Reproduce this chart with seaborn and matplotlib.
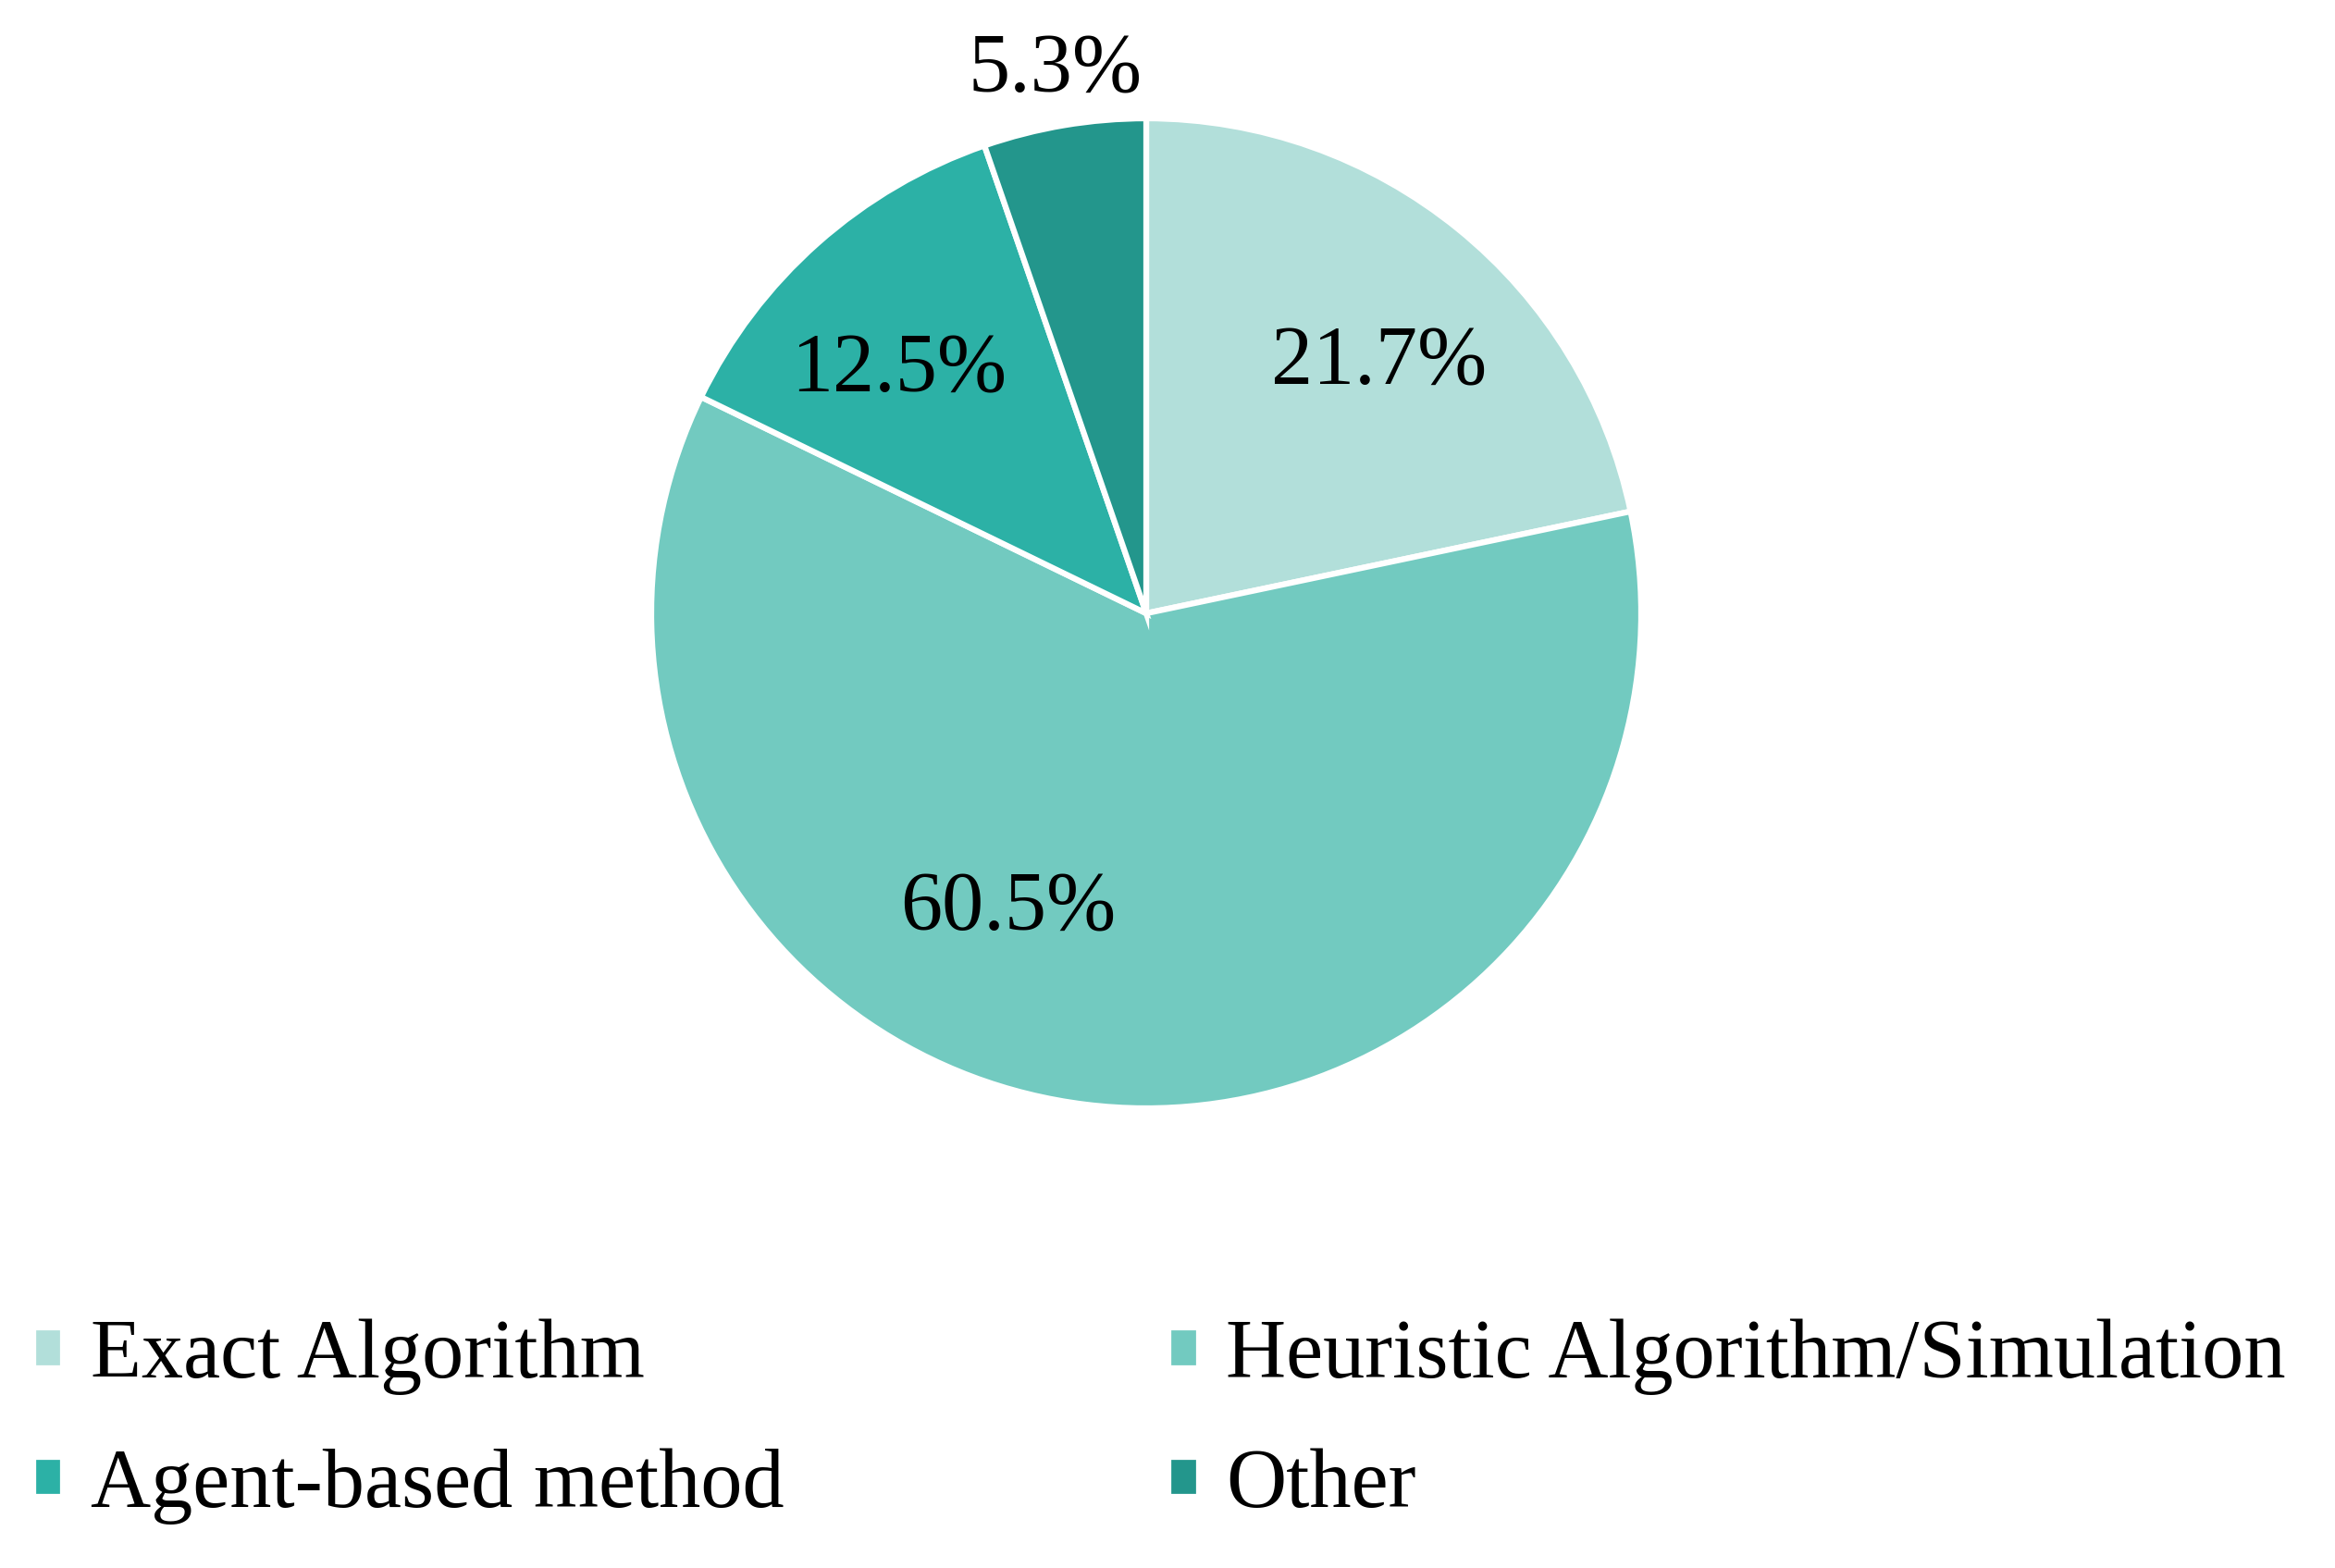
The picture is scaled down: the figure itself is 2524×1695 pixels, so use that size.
import matplotlib.pyplot as plt
import seaborn as sns
import numpy as np

categories = ["Exact Algorithm", "Heuristic Algorithm/Simulation", "Agent-based method", "Other"]
shares = [21.7, 60.5, 12.5, 5.3]
colors = ["#B2DFDA", "#72CAC0", "#2CB1A6", "#23968C"]

sns.set_theme(style="white")
plt.rcParams["font.family"] = ["Liberation Serif", "DejaVu Serif"]

fig = plt.figure(figsize=(25.24, 16.95), dpi=100)
# pie centred at ~(1239, 663) px with radius ~535 px
r_px = 535
ax = fig.add_axes([(1239 - r_px) / 2524, (1695 - 663 - r_px) / 1695, 2 * r_px / 2524, 2 * r_px / 1695])

wedges, texts, autotexts = ax.pie(
    shares, colors=colors, startangle=90, counterclock=False,
    autopct="%.1f%%", pctdistance=0.7,
    wedgeprops=dict(edgecolor="white", linewidth=4.5),
    textprops=dict(fontsize=65, color="black"),
)
ax.set_xlim(-1, 1)
ax.set_ylim(-1, 1)
ax.set_aspect("equal")

# label placement: distance from centre and angle nudge (degrees) per slice
label_dist = [0.69, 0.66, 0.70, 1.11]
label_nudge = [-4, -18, 4, 0]
for w, t, d, n in zip(wedges, autotexts, label_dist, label_nudge):
    mid = np.deg2rad((w.theta1 + w.theta2) / 2 + n)
    t.set_position((d * np.cos(mid), d * np.sin(mid)))

# legend filled row by row
order = [0, 2, 1, 3]
fig.legend(
    [wedges[i] for i in order], [categories[i] for i in order],
    ncol=2, loc="lower left", bbox_to_anchor=(-0.018, -0.02),
    frameon=False, fontsize=65, labelcolor="black",
    handlelength=0.36, handleheight=0.36,
    handletextpad=0.33, columnspacing=4.6, labelspacing=0.63,
)

plt.savefig("out.png", dpi=100)
